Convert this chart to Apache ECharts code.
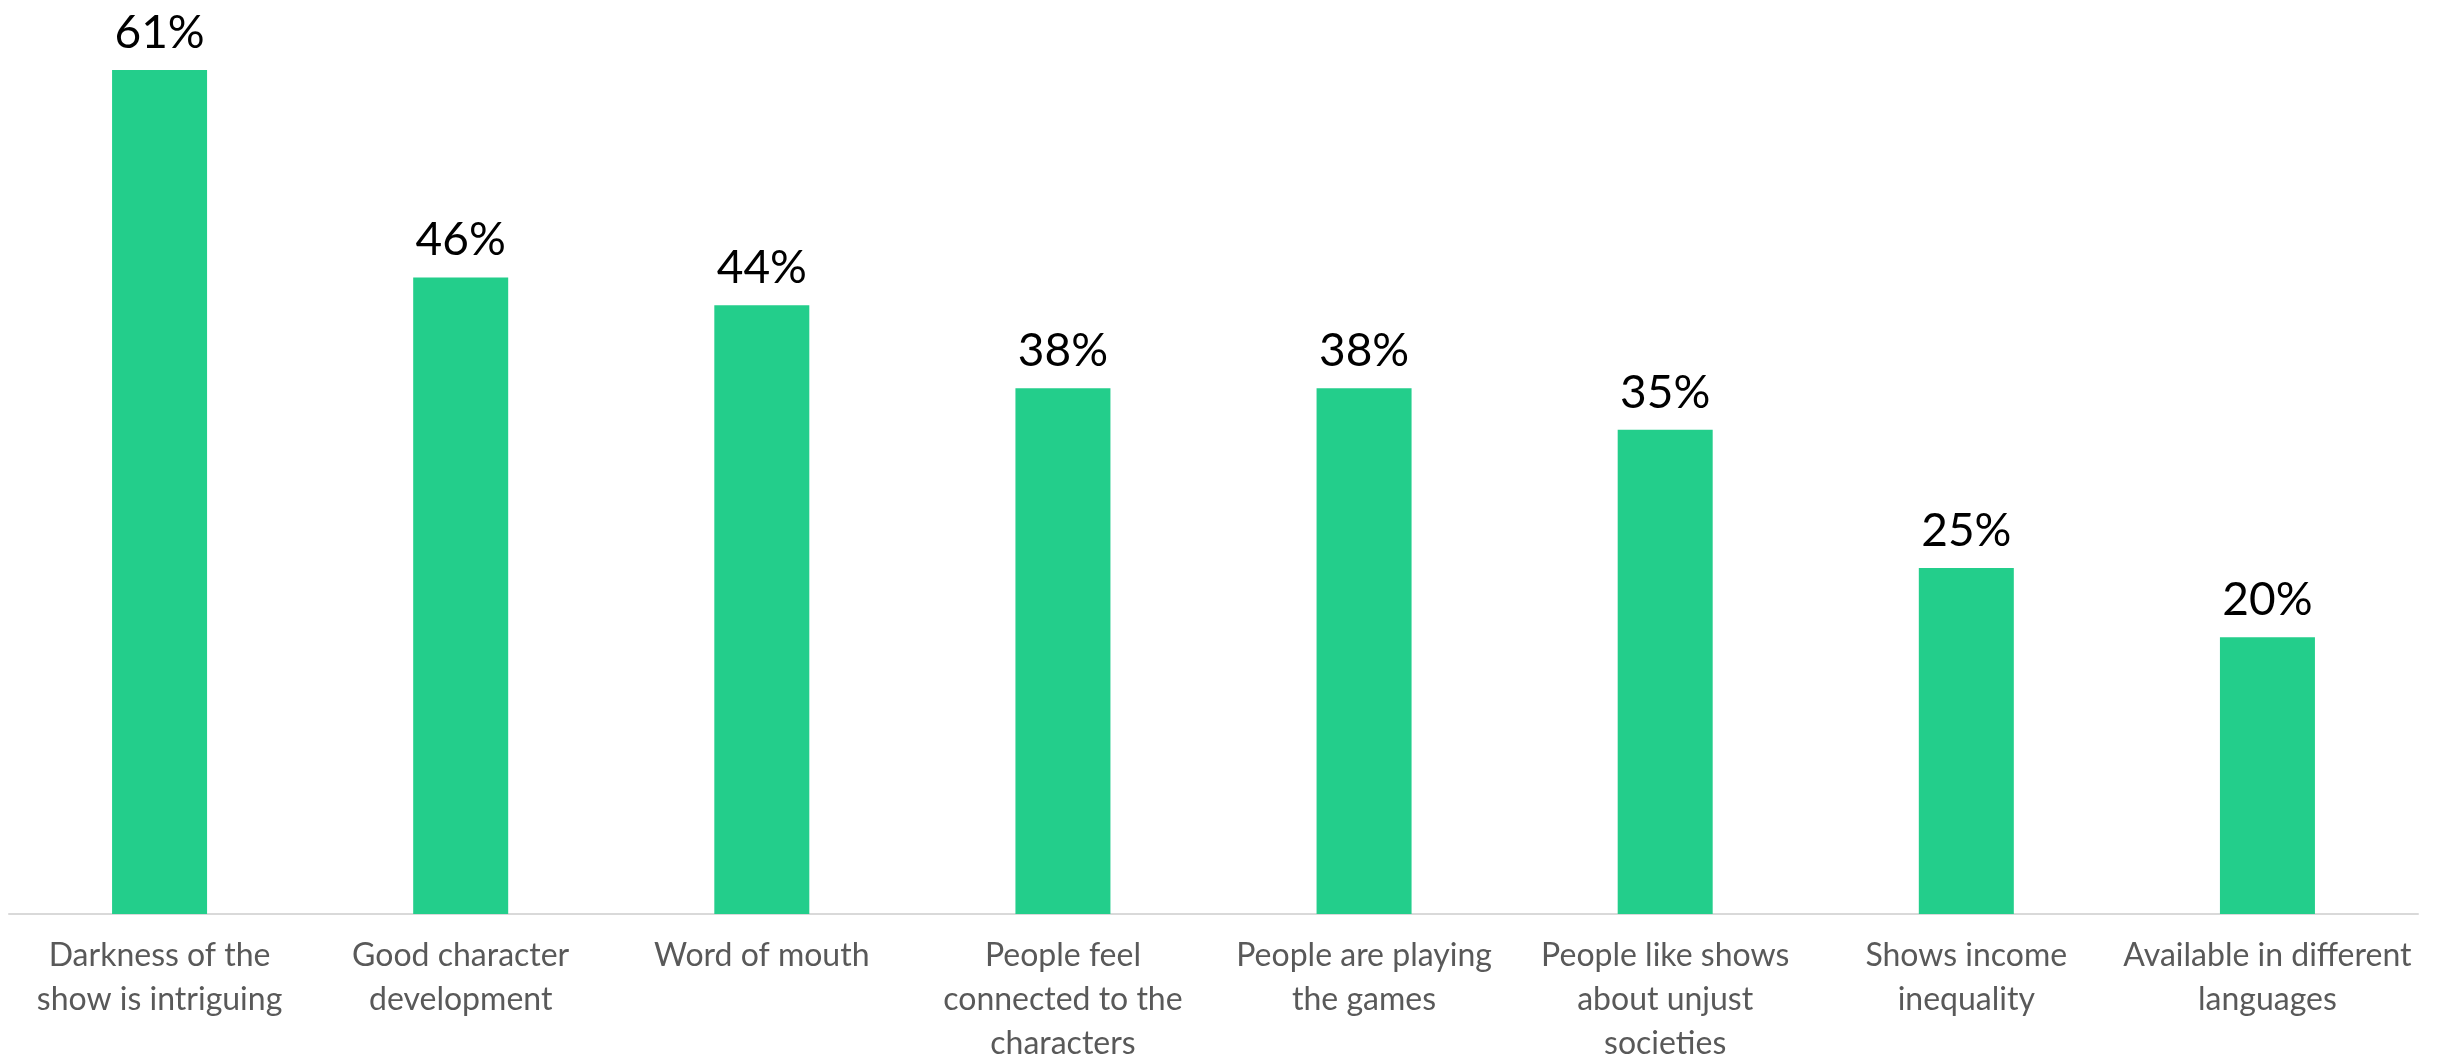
<!DOCTYPE html>
<html>
<head>
<meta charset="utf-8">
<title>Reasons for watching</title>
<script src="https://cdn.jsdelivr.net/npm/echarts@6/dist/echarts.min.js"></script>
<style>
  html, body { margin: 0; padding: 0; background: #ffffff; }
  #chart { width: 2445px; height: 1058px; }
</style>
</head>
<body>
<div id="chart"></div>
<script>
// Reasons given, with line breaks as they wrap under the axis
const categories = [
  'Darkness of the\nshow is intriguing',
  'Good character\ndevelopment',
  'Word of mouth',
  'People feel\nconnected to the\ncharacters',
  'People are playing\nthe games',
  'People like shows\nabout unjust\nsocieties',
  'Shows income\ninequality',
  'Available in different\nlanguages'
];

// Share of respondents, in percent
const shares = [61, 46, 44, 38, 38, 35, 25, 20];

const chart = echarts.init(document.getElementById('chart'), null, { renderer: 'canvas' });

chart.setOption({
  animation: false,
  backgroundColor: '#ffffff',
  grid: {
    left: 9,
    right: 27,
    top: 14.6,
    bottom: 144,
    containLabel: false,
    outerBoundsMode: 'none'
  },
  xAxis: {
    type: 'category',
    data: categories,
    axisLine: { show: true, lineStyle: { color: '#d9d9d9', width: 2 } },
    axisTick: { show: false },
    axisLabel: {
      interval: 0,
      margin: 20,
      color: '#595959',
      fontFamily: 'Lato',
      fontSize: 32,
      lineHeight: 44,
      align: 'center'
    }
  },
  yAxis: {
    type: 'value',
    min: 0,
    max: 65,
    show: false,
    splitLine: { show: false }
  },
  series: [{
    type: 'bar',
    data: shares,
    barWidth: 95,
    itemStyle: { color: '#23CE8B' },
    label: {
      show: true,
      position: 'top',
      distance: 14,
      color: '#000000',
      fontFamily: 'Lato',
      fontSize: 46,
      formatter: p => p.value + '%'
    }
  }]
});
</script>
</body>
</html>
